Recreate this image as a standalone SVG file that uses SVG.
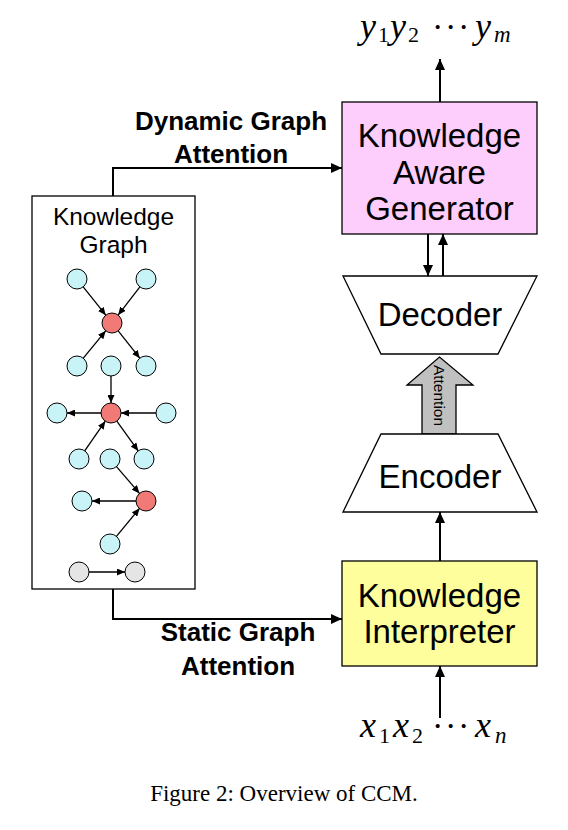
<svg xmlns="http://www.w3.org/2000/svg" width="568" height="830" viewBox="0 0 568 830">
<style>
.box{stroke:#000;stroke-width:1.3}
.lbl{font-family:"Liberation Sans",Arial,sans-serif;font-size:33px;text-anchor:middle;fill:#000}
.blbl{font-family:"Liberation Sans",Arial,sans-serif;font-size:26px;font-weight:bold;text-anchor:middle;fill:#000}
.conn{fill:none;stroke:#000;stroke-width:2}
.edge{fill:none;stroke:#000;stroke-width:1.3}
.cy{fill:#c8f3f7;stroke:#000;stroke-width:1}
.rd{fill:#f27a76;stroke:#000;stroke-width:1}
.gy{fill:#e5e5e5;stroke:#000;stroke-width:1}
.math{font-family:"Liberation Serif","Times New Roman",serif;fill:#000}
.it{font-style:italic;font-size:36px}
.sub{font-size:22px}
.dot{font-size:34px}
</style>
<defs>
<marker id="arr" markerUnits="userSpaceOnUse" markerWidth="11" markerHeight="10" refX="11" refY="5" orient="auto"><path d="M0,0 L11,5 L0,10 z" fill="#000"/></marker>
<marker id="sa" markerUnits="userSpaceOnUse" markerWidth="8" markerHeight="7" refX="8" refY="3.5" orient="auto"><path d="M0,0 L8,3.5 L0,7 z" fill="#000"/></marker>
</defs>
<rect width="568" height="830" fill="#fff"/>

<g id="connectors">
<path class="conn" d="M113,196 V168 H342" marker-end="url(#arr)"/>
<path class="conn" d="M113,589 V619 H342" marker-end="url(#arr)"/>
<path class="conn" d="M440,102 V59" marker-end="url(#arr)"/>
<path class="conn" d="M428,234 V276" marker-end="url(#arr)"/>
<path class="conn" d="M443,276 V234" marker-end="url(#arr)"/>
<path class="conn" d="M440,561 V512" marker-end="url(#arr)"/>
<path class="conn" d="M440,718 V666" marker-end="url(#arr)"/>
</g>

<g id="dynamic-label">
<text class="blbl" x="231" y="130">Dynamic Graph</text>
<text class="blbl" x="231" y="163">Attention</text>
</g>
<g id="static-label">
<text class="blbl" x="238" y="641">Static Graph</text>
<text class="blbl" x="238" y="675">Attention</text>
</g>

<g id="knowledge-graph">
<rect class="box" x="32" y="196" width="163" height="393" fill="#fff"/>
<text class="lbl" style="font-size:24.5px" x="113.5" y="225">Knowledge</text>
<text class="lbl" style="font-size:24.5px" x="113.5" y="253">Graph</text>
<g id="kg-edges">
<line class="edge" x1="83.2" y1="286.8" x2="105.8" y2="315.2" marker-end="url(#sa)"/>
<line class="edge" x1="139.9" y1="286.9" x2="118.1" y2="315.1" marker-end="url(#sa)"/>
<line class="edge" x1="83.3" y1="358.2" x2="105.7" y2="330.8" marker-end="url(#sa)"/>
<line class="edge" x1="118.2" y1="330.8" x2="139.8" y2="358.2" marker-end="url(#sa)"/>
<line class="edge" x1="111" y1="376" x2="111" y2="403" marker-end="url(#sa)"/>
<line class="edge" x1="101" y1="413" x2="67" y2="413" marker-end="url(#sa)"/>
<line class="edge" x1="156" y1="413" x2="121" y2="413" marker-end="url(#sa)"/>
<line class="edge" x1="84.7" y1="450.8" x2="105.3" y2="421.2" marker-end="url(#sa)"/>
<line class="edge" x1="116.8" y1="421.1" x2="138.2" y2="450.9" marker-end="url(#sa)"/>
<line class="edge" x1="116.5" y1="466.6" x2="139.5" y2="493.4" marker-end="url(#sa)"/>
<line class="edge" x1="136" y1="501" x2="92" y2="501" marker-end="url(#sa)"/>
<line class="edge" x1="116.4" y1="536.3" x2="139.6" y2="508.3" marker-end="url(#sa)"/>
<line class="edge" x1="89" y1="572" x2="125" y2="572" marker-end="url(#sa)"/>
</g>
<g id="kg-nodes">
<circle class="cy" cx="77" cy="279" r="10"/>
<circle class="cy" cx="146" cy="279" r="10"/>
<circle class="rd" cx="112" cy="323" r="10"/>
<circle class="cy" cx="77" cy="366" r="10"/>
<circle class="cy" cx="111" cy="366" r="10"/>
<circle class="cy" cx="146" cy="366" r="10"/>
<circle class="cy" cx="57" cy="413" r="10"/>
<circle class="rd" cx="111" cy="413" r="10"/>
<circle class="cy" cx="166" cy="413" r="10"/>
<circle class="cy" cx="79" cy="459" r="10"/>
<circle class="cy" cx="110" cy="459" r="10"/>
<circle class="cy" cx="144" cy="459" r="10"/>
<circle class="cy" cx="82" cy="501" r="10"/>
<circle class="rd" cx="146" cy="501" r="10"/>
<circle class="cy" cx="110" cy="544" r="10"/>
<circle class="gy" cx="79" cy="572" r="10"/>
<circle class="gy" cx="135" cy="572" r="10"/>
</g>
</g>

<g id="generator">
<rect class="box" x="342" y="102" width="195" height="132" fill="#fdcdfb"/>
<text class="lbl" x="439.5" y="147">Knowledge</text>
<text class="lbl" x="439.5" y="184">Aware</text>
<text class="lbl" x="439.5" y="220">Generator</text>
</g>

<g id="decoder">
<polygon class="box" points="343,276 537,276 498,354 381,354" fill="#fff"/>
<text class="lbl" x="440" y="326">Decoder</text>
</g>

<g id="attention-arrow">
<polygon class="box" points="422,434 422,385 407,385 439.5,357 473,385 456,385 456,434" fill="#c0c0c0"/>
<text transform="translate(434,395.5) rotate(90)" x="0" y="0" style="font-family:'Liberation Sans',Arial,sans-serif;font-size:15.5px;text-anchor:middle">Attention</text>
</g>

<g id="encoder">
<polygon class="box" points="381,434 498,434 537,512 343,512" fill="#fff"/>
<text class="lbl" x="440" y="488">Encoder</text>
</g>

<g id="interpreter">
<rect class="box" x="342" y="561" width="195" height="105" fill="#fefe9c"/>
<text class="lbl" x="439.5" y="607">Knowledge</text>
<text class="lbl" x="439.5" y="643">Interpreter</text>
</g>

<g id="output">
<text class="math" y="38"><tspan class="it" x="360">y</tspan><tspan class="sub" x="378" y="42">1</tspan><tspan class="it" x="390" y="38">y</tspan><tspan class="sub" x="408" y="42">2</tspan><tspan class="dot" x="432" y="38">·</tspan><tspan class="dot" x="445">·</tspan><tspan class="dot" x="458">·</tspan><tspan class="it" x="475">y</tspan><tspan class="sub it" style="font-size:23px" x="494" y="42">m</tspan></text>
</g>

<g id="input">
<text class="math" y="737"><tspan class="it" x="360">x</tspan><tspan class="sub" x="379" y="743">1</tspan><tspan class="it" x="393" y="737">x</tspan><tspan class="sub" x="412" y="743">2</tspan><tspan class="dot" x="432" y="737">·</tspan><tspan class="dot" x="445">·</tspan><tspan class="dot" x="458">·</tspan><tspan class="it" x="475" y="737">x</tspan><tspan class="sub it" style="font-size:23px" x="495" y="743">n</tspan></text>
</g>

<text id="caption" x="284" y="801" style="font-family:'Liberation Serif','Times New Roman',serif;font-size:23px;text-anchor:middle">Figure 2: Overview of CCM.</text>
</svg>
